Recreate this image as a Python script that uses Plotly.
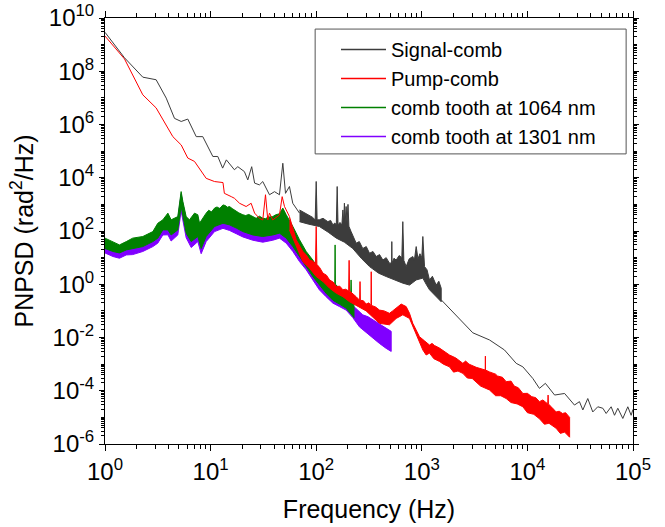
import plotly.graph_objects as go

# ---- data (frequency in Hz, PNPSD in rad^2/Hz) ----

# Signal-comb: smooth low-frequency part
sig_low_f = [1.0, 1.53, 2.28, 3.05, 3.8, 4.55, 5.27, 6.08, 7.31, 8.43, 10.5, 11.7, 13.0, 14.1,
             16.8, 18.1, 20.9, 22.5, 24.5, 26.1, 29.0, 31.2, 36.1, 40.3, 44.9, 48.3, 51.2,
             55.8, 60.0, 69.5]
sig_low_psd = [2.9e9, 3.2e8, 6.0e7, 4.8e7, 9.8e6, 1.7e6, 1.3e6, 1.6e6, 3.5e5, 3.5e5, 6.3e4,
               6.3e4, 2.3e4, 4.7e4, 2.0e4, 2.6e4, 1.7e4, 8.3e3, 2.6e4, 6.3e3, 5.4e3, 7.2e3,
               2.3e3, 3.0e3, 2.3e3, 3.5e4, 2.6e3, 4.7e3, 1.1e3, 4.7e2]

# Signal-comb: noisy band 70 Hz - 1.5 kHz (upper / lower envelope)
sig_band_hi_f = [69.5, 78, 86.4, 92, 97.8, 100, 102, 107, 116, 129, 137, 144, 150, 155, 158, 161,
                 168, 175, 179, 182, 185, 188, 192, 196, 200, 204, 214, 226, 239, 256, 276,
                 298, 320, 345, 370, 398, 428, 460, 494, 518, 520, 523, 545, 572, 610, 647,
                 661, 676, 711, 760, 822, 850, 885, 920, 960, 1000, 1023, 1045, 1061, 1120,
                 1183, 1260, 1368, 1450, 1527]
sig_band_hi = [617, 480, 407, 330, 263, 7240, 263, 263, 300, 224, 250, 170, 200, 170, 4680,
               170, 210, 170, 617, 200, 1110, 200, 832, 200, 1000, 150, 95, 60, 35, 40, 22,
               26, 14.6, 17, 11, 13, 8.1, 10, 6.2, 6.3, 40, 6.3, 9.5, 8.1, 12, 10, 224, 7.9,
               4.6, 9, 11, 8, 26, 9, 14, 10, 62, 7.9, 4.6, 3.5, 1.45, 2.0, 0.93, 1.3, 0.71]
sig_band_lo_f = [69.5, 85, 107, 130, 155, 185, 222, 270, 320, 390, 460, 560, 661, 765, 885,
                 1023, 1100, 1183, 1368, 1527]
sig_band_lo = [224, 180, 148, 90, 54, 38, 22, 9, 4.6, 2.6, 1.95, 1.4, 1.1, 0.93, 1.45, 1.7,
               1.0, 0.62, 0.34, 0.22]

# Signal-comb: thin high-frequency tail
sig_tail_f = [1527, 3041, 4375, 6067, 7834, 9057, 11250, 13000, 14800, 18100, 22500, 27900,
              31100, 33500, 37300, 41600, 46400, 51800, 55700, 62100, 66800, 71800, 80100,
              89300, 96000, 100000]
sig_tail_psd = [0.26, 0.015, 8.1e-3, 3.4e-3, 1.07e-3, 7.9e-4, 2.9e-4, 1.23e-4, 1.9e-4, 6.9e-5,
                7.9e-5, 2.9e-5, 3.9e-5, 1.9e-5, 5.1e-5, 1.6e-5, 2.5e-5, 2.2e-5, 1.4e-5,
                2.5e-5, 1.2e-5, 2.2e-5, 9.1e-6, 2.5e-5, 1.2e-5, 2.0e-5]

# Pump-comb: smooth low-frequency part
pump_low_f = [1.0, 1.53, 2.28, 3.05, 4.39, 5.27, 6.08, 7.04, 9.08, 10.9, 13.1, 13.5, 15.7, 16.8,
              18.8, 21.7, 24.2, 26.1, 29.0, 31.2, 33.1, 34.8, 36.1, 38.8, 44.9, 47.6, 50.1, 55.8]
pump_low_psd = [2.1e9, 2.9e8, 1.3e7, 4.2e6, 3.5e5, 1.7e5, 5.5e4, 4.1e4, 9.5e3, 7.2e3, 6.6e3,
                2.6e3, 1.95e3, 1.7e3, 1.1e3, 8.3e2, 1.1e3, 4.7e2, 3.0e2, 2.6e2, 2.3e3, 2.6e2,
                4.7e2, 2.6e2, 4.0e2, 1.95e3, 8.3e2, 3.5e2]

# Pump-comb: noisy band 56 Hz - 25 kHz
pump_band_hi_f = [55.8, 64.6, 74.7, 80, 86.4, 92, 98.5, 100, 101.5, 108, 116, 125, 134, 145, 155,
                  167, 179, 190, 203, 205, 207, 222, 239, 258, 260, 262, 280, 297, 315, 330,
                  332, 334, 365, 397, 440, 494, 530, 572, 638, 711, 765, 822, 885, 951, 1060,
                  1183, 1250, 1320, 1472, 1650, 1829, 2100, 2447, 2600, 2800, 3273, 3600,
                  3990, 4000, 4010, 4375, 5000, 5200, 5800, 6295, 7000, 7500, 8200, 9057,
                  10000, 11000, 12000, 13000, 14000, 15600, 15700, 15800, 17000, 18700,
                  20000, 21500, 23000, 25100]
pump_band_hi = [347, 47, 17, 13, 8.1, 7.5, 6.0, 148, 5.6, 4.2, 2.6, 2.2, 1.45, 1.2, 0.81,
                0.85, 0.62, 0.65, 0.56, 7.9, 0.56, 0.45, 0.34, 0.25, 1.26, 0.25, 0.24, 0.18,
                0.2, 0.16, 2.95, 0.16, 0.14, 0.107, 0.1, 0.081, 0.1, 0.126, 0.18, 0.145,
                0.081, 0.034, 0.02, 0.0107, 7.5e-3, 5.2e-3, 6.0e-3, 5.0e-3, 4.0e-3, 3.0e-3,
                2.2e-3, 1.7e-3, 1.07e-3, 1.3e-3, 1.0e-3, 7.6e-4, 7.0e-4, 6.0e-4, 2.0e-3,
                6.0e-4, 5.1e-4, 4.2e-4, 3.6e-4, 3.2e-4, 2.2e-4, 2.3e-4, 1.5e-4, 1.3e-4,
                7.9e-5, 8.0e-5, 6.0e-5, 5.5e-5, 3.9e-5, 4.5e-5, 3.2e-5, 6.9e-5, 3.2e-5,
                2.4e-5, 1.6e-5, 1.7e-5, 1.4e-5, 1.5e-5, 1.0e-5]
pump_band_lo_f = [55.8, 64.6, 74.7, 86.4, 100, 116, 134, 155, 179, 207, 239, 297, 397, 494,
                  572, 661, 765, 885, 1023, 1100, 1183, 1300, 1472, 1600, 1829, 2000, 2200,
                  2447, 2700, 3000, 3273, 3600, 4375, 5000, 5600, 6295, 7000, 8000, 9057,
                  10000, 11500, 13000, 14500, 16000, 18700, 20500, 22500, 25100]
pump_band_lo = [110, 26, 7.1, 4.0, 1.95, 1.26, 0.71, 0.46, 0.34, 0.22, 0.166, 0.1, 0.034,
                0.03, 0.052, 0.071, 0.052, 0.0123, 3.4e-3, 2.2e-3, 2.6e-3, 1.6e-3, 1.26e-3,
                1.0e-3, 7.9e-4, 5.0e-4, 5.5e-4, 4.5e-4, 3.0e-4, 2.9e-4, 2.2e-4, 1.5e-4,
                1.07e-4, 6.5e-5, 6.5e-5, 5.1e-5, 3.6e-5, 3.2e-5, 2.5e-5, 1.5e-5, 1.3e-5,
                8.9e-6, 5.5e-6, 6.0e-6, 3.9e-6, 2.5e-6, 2.8e-6, 1.8e-6]

# comb tooth at 1064 nm (band)
t1064_hi_f = [1.0, 1.19, 1.37, 1.59, 1.83, 2.28, 2.84, 3.16, 3.53, 3.94, 4.23, 4.89, 5.26, 5.46,
              5.87, 6.31, 7.04, 7.57, 7.85, 9.08, 9.6, 10.2, 10.9, 11.5, 12.2, 13.1, 13.8,
              14.4, 15.1, 16.0, 17.5, 18.5, 20.2, 21.5, 23.0, 25.1, 27.0, 29.0, 31.2, 33.0,
              35.0, 38.8, 41.0, 44.9, 48.3, 52, 60.1, 69.5, 80.4, 92.9, 107, 124, 144, 150,
              151, 152, 166, 192, 212, 214, 216, 222, 228]
t1064_hi = [54, 40, 30, 40, 54, 62, 95, 195, 263, 468, 263, 347, 3020, 1290, 347, 263, 468,
            407, 195, 468, 600, 520, 724, 800, 700, 955, 900, 780, 832, 700, 537, 480, 407,
            380, 420, 347, 300, 360, 302, 290, 330, 347, 400, 447, 724, 407, 148, 47, 17, 8.1,
            3.5, 1.7, 1.1, 1.0, 30, 1.0, 0.71, 0.46, 0.32, 1.45, 0.32, 0.22, 0.16]
t1064_lo_f = [1.0, 1.19, 1.37, 1.59, 1.83, 2.28, 2.84, 3.16, 3.53, 3.94, 4.23, 4.89, 5.26, 5.87,
              6.55, 7.57, 8.14, 9.08, 10.9, 13.1, 15.1, 17.5, 20.2, 25.1, 31.2, 38.8, 44.9,
              52, 60.1, 69.5, 80.4, 92.9, 107, 124, 144, 166, 192, 228]
t1064_lo = [22, 17, 15, 19.5, 21, 26, 40, 54, 110, 110, 71, 110, 832, 83, 40, 62, 22, 62,
            148, 195, 170, 129, 95, 71, 62, 71, 83, 54, 26, 11, 4.6, 1.95, 0.93, 0.46, 0.25,
            0.18, 0.126, 0.056]

# comb tooth at 1301 nm (band)
t1301_hi_f = [1.0, 1.19, 1.37, 1.59, 1.83, 2.28, 2.84, 3.16, 3.53, 3.94, 4.23, 4.89, 5.26, 5.46,
              5.87, 6.31, 7.04, 7.57, 7.85, 9.08, 10.9, 13.1, 15.1, 17.5, 20.2, 25.1, 31.2,
              38.8, 44.9, 48.3, 52, 60.1, 69.5, 80.4, 92.9, 107, 124, 144, 166, 192, 222,
              257, 276, 310, 344, 380, 428, 470, 513]
t1301_hi = [45, 33, 25, 33, 45, 51, 79, 158, 219, 380, 219, 288, 2510, 1070, 288, 219, 389,
            339, 162, 389, 603, 794, 692, 447, 339, 288, 251, 288, 355, 562, 316, 112, 35,
            12.6, 6.3, 2.8, 1.4, 0.89, 0.56, 0.35, 0.16, 0.093, 0.071, 0.06, 0.046, 0.038,
            0.026, 0.022, 0.017]
t1301_lo_f = [1.0, 1.19, 1.37, 1.59, 1.83, 2.28, 2.84, 3.16, 3.53, 3.94, 4.23, 4.89, 5.26, 5.87,
              6.55, 7.57, 8.14, 9.08, 10.9, 13.1, 15.1, 17.5, 20.2, 25.1, 31.2, 38.8, 44.9,
              52, 60.1, 69.5, 80.4, 92.9, 107, 124, 144, 166, 192, 222, 257, 320, 397, 460, 513]
t1301_lo = [15, 11, 9.5, 12.6, 13, 17, 26, 35, 71, 72, 42, 71, 562, 56, 24, 40, 14, 40, 95,
            126, 105, 79, 60, 45, 38, 45, 54, 35, 17, 7.1, 3.5, 1.45, 0.62, 0.34, 0.195,
            0.145, 0.107, 0.056, 0.025, 0.0126, 0.006, 0.0039, 0.003]

# axis ticks
x_tick_vals = [1, 10, 100, 1000, 10000, 100000]
x_tick_text = ['10<sup>0</sup>', '10<sup>1</sup>', '10<sup>2</sup>', '10<sup>3</sup>',
               '10<sup>4</sup>', '10<sup>5</sup>']
y_tick_vals = [1e-6, 1e-4, 1e-2, 1, 1e2, 1e4, 1e6, 1e8, 1e10]
y_tick_text = ['10<sup>-6</sup>', '10<sup>-4</sup>', '10<sup>-2</sup>', '10<sup>0</sup>',
               '10<sup>2</sup>', '10<sup>4</sup>', '10<sup>6</sup>', '10<sup>8</sup>',
               '10<sup>10</sup>']

BLACK = '#3c3c3c'
RED = '#ff0000'
GREEN = '#008000'
PURPLE = '#8000ff'


def band(f_hi, hi, f_lo, lo, color):
    """filled noise band between an upper and a lower envelope"""
    return go.Scatter(x=list(f_hi) + list(f_lo)[::-1], y=list(hi) + list(lo)[::-1],
                      mode='lines', fill='toself', fillcolor=color,
                      line=dict(color=color, width=1), showlegend=False, hoverinfo='skip')


fig = go.Figure()
fig.add_trace(band(t1301_hi_f, t1301_hi, t1301_lo_f, t1301_lo, PURPLE))
fig.add_trace(band(t1064_hi_f, t1064_hi, t1064_lo_f, t1064_lo, GREEN))
fig.add_trace(band(pump_band_hi_f, pump_band_hi, pump_band_lo_f, pump_band_lo, RED))
fig.add_trace(go.Scatter(x=pump_low_f, y=pump_low_psd, mode='lines',
                         line=dict(color=RED, width=1), showlegend=False))
fig.add_trace(band(sig_band_hi_f, sig_band_hi, sig_band_lo_f, sig_band_lo, BLACK))
fig.add_trace(go.Scatter(x=sig_low_f, y=sig_low_psd, mode='lines',
                         line=dict(color=BLACK, width=1), showlegend=False))
fig.add_trace(go.Scatter(x=sig_tail_f, y=sig_tail_psd, mode='lines',
                         line=dict(color=BLACK, width=1), showlegend=False))

# legend entries
for rank, (name, color) in enumerate([('Signal-comb', BLACK), ('Pump-comb', RED),
                                      ('comb tooth at 1064 nm', GREEN),
                                      ('comb tooth at 1301 nm', PURPLE)]):
    fig.add_trace(go.Scatter(x=[None], y=[None], mode='lines', name=name,
                             line=dict(color=color, width=1.5), legendrank=rank + 1))

axis_common = dict(
    type='log', showgrid=False, zeroline=False, showline=True, linecolor='black',
    linewidth=1, mirror='ticks', ticks='outside', tickcolor='black', tickwidth=1,
    tickmode='array', tickfont=dict(size=24, color='black'), automargin=False,
)

fig.update_layout(
    width=665, height=527,
    margin=dict(l=105, r=32, t=18, b=83, autoexpand=False),
    paper_bgcolor='white', plot_bgcolor='white',
    font=dict(family='Liberation Sans, Arial, sans-serif', color='black'),
    xaxis=dict(
        axis_common, range=[0, 5], tickvals=x_tick_vals, ticktext=x_tick_text, ticklen=6,
        minor=dict(tickmode='array',
                   tickvals=[m * 10 ** k for k in range(0, 5) for m in range(2, 10)],
                   ticks='outside', ticklen=4, tickcolor='black', showgrid=False),
        title=dict(text='Frequency (Hz)', font=dict(size=25), standoff=16),
    ),
    yaxis=dict(
        axis_common, range=[-6, 10], tickvals=y_tick_vals, ticktext=y_tick_text, ticklen=5,
        minor=dict(tickmode='array',
                   tickvals=[m * 10.0 ** k for k in range(-6, 10) for m in range(1, 10)
                             if not (m == 1 and k % 2 == 0)],
                   ticks='outside', ticklen=3, tickcolor='black', showgrid=False),
        title=dict(text='PNPSD (rad<sup>2</sup>/Hz)', font=dict(size=25), standoff=8),
    ),
    legend=dict(x=0.4375, y=0.972, xanchor='left', yanchor='top',
                bgcolor='rgba(0,0,0,0)', borderwidth=0, font=dict(size=20),
                tracegroupgap=0, itemwidth=45),
    shapes=[dict(type='rect', xref='paper', yref='paper', x0=0.398, x1=0.987,
                 y0=0.681, y1=0.974, line=dict(color='#555555', width=1),
                 fillcolor='rgba(0,0,0,0)', layer='above')],
)

# drop the default 8 px body margin so the figure fills the window exactly
fig.write_html("out.html", config={"displayModeBar": False},
               post_script="document.body.style.margin = '0';")
